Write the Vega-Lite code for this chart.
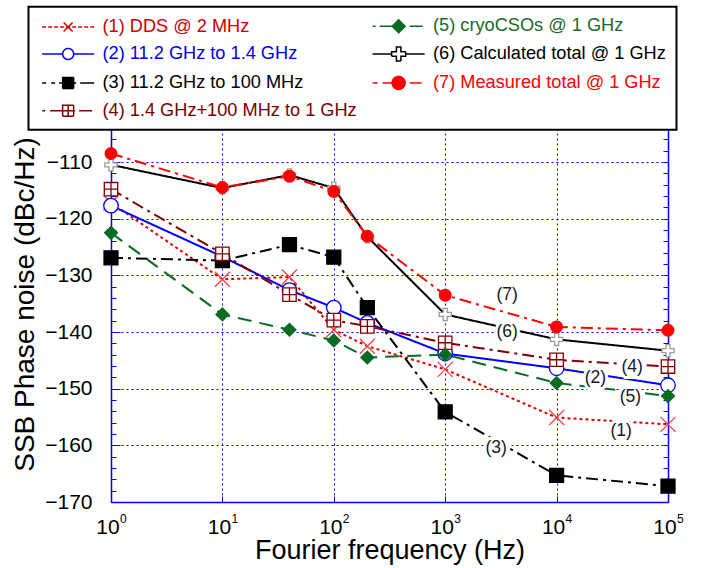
{
  "$schema": "https://vega.github.io/schema/vega-lite/v6.json",
  "width": 557,
  "height": 374,
  "autosize": {"type": "none"},
  "padding": {"left": 111, "top": 128, "right": 41, "bottom": 66},
  "background": "white",
  "config": {"font": "Liberation Sans", "view": {"stroke": null}},
  "datasets": {
    "d": [
      {"s": "(1) DDS @ 2 MHz", "f": 1, "v": -117.2},
      {"s": "(1) DDS @ 2 MHz", "f": 10, "v": -130.7},
      {"s": "(1) DDS @ 2 MHz", "f": 40, "v": -130.3},
      {"s": "(1) DDS @ 2 MHz", "f": 100, "v": -139.6},
      {"s": "(1) DDS @ 2 MHz", "f": 200, "v": -142.5},
      {"s": "(1) DDS @ 2 MHz", "f": 1000, "v": -146.6},
      {"s": "(1) DDS @ 2 MHz", "f": 10000, "v": -155.1},
      {"s": "(1) DDS @ 2 MHz", "f": 100000, "v": -156.3},
      {"s": "(2) 11.2 GHz to 1.4 GHz", "f": 1, "v": -117.7},
      {"s": "(2) 11.2 GHz to 1.4 GHz", "f": 10, "v": -126.7},
      {"s": "(2) 11.2 GHz to 1.4 GHz", "f": 40, "v": -132.6},
      {"s": "(2) 11.2 GHz to 1.4 GHz", "f": 100, "v": -135.7},
      {"s": "(2) 11.2 GHz to 1.4 GHz", "f": 200, "v": -138.4},
      {"s": "(2) 11.2 GHz to 1.4 GHz", "f": 1000, "v": -143.8},
      {"s": "(2) 11.2 GHz to 1.4 GHz", "f": 10000, "v": -146.4},
      {"s": "(2) 11.2 GHz to 1.4 GHz", "f": 100000, "v": -149.4},
      {"s": "(3) 11.2 GHz to 100 MHz", "f": 1, "v": -126.9},
      {"s": "(3) 11.2 GHz to 100 MHz", "f": 10, "v": -127.4},
      {"s": "(3) 11.2 GHz to 100 MHz", "f": 40, "v": -124.6},
      {"s": "(3) 11.2 GHz to 100 MHz", "f": 100, "v": -126.8},
      {"s": "(3) 11.2 GHz to 100 MHz", "f": 200, "v": -135.7},
      {"s": "(3) 11.2 GHz to 100 MHz", "f": 1000, "v": -154.1},
      {"s": "(3) 11.2 GHz to 100 MHz", "f": 10000, "v": -165.3},
      {"s": "(3) 11.2 GHz to 100 MHz", "f": 100000, "v": -167.2},
      {"s": "(4) 1.4 GHz+100 MHz to 1 GHz", "f": 1, "v": -114.8},
      {"s": "(4) 1.4 GHz+100 MHz to 1 GHz", "f": 10, "v": -126.2},
      {"s": "(4) 1.4 GHz+100 MHz to 1 GHz", "f": 40, "v": -133.4},
      {"s": "(4) 1.4 GHz+100 MHz to 1 GHz", "f": 100, "v": -137.9},
      {"s": "(4) 1.4 GHz+100 MHz to 1 GHz", "f": 200, "v": -139.0},
      {"s": "(4) 1.4 GHz+100 MHz to 1 GHz", "f": 1000, "v": -141.9},
      {"s": "(4) 1.4 GHz+100 MHz to 1 GHz", "f": 10000, "v": -144.9},
      {"s": "(4) 1.4 GHz+100 MHz to 1 GHz", "f": 100000, "v": -146.1},
      {"s": "(5) cryoCSOs @ 1 GHz", "f": 1, "v": -122.5},
      {"s": "(5) cryoCSOs @ 1 GHz", "f": 10, "v": -136.9},
      {"s": "(5) cryoCSOs @ 1 GHz", "f": 40, "v": -139.6},
      {"s": "(5) cryoCSOs @ 1 GHz", "f": 100, "v": -141.5},
      {"s": "(5) cryoCSOs @ 1 GHz", "f": 200, "v": -144.5},
      {"s": "(5) cryoCSOs @ 1 GHz", "f": 1000, "v": -144.0},
      {"s": "(5) cryoCSOs @ 1 GHz", "f": 10000, "v": -149.0},
      {"s": "(5) cryoCSOs @ 1 GHz", "f": 100000, "v": -151.3},
      {"s": "(6) Calculated total @ 1 GHz", "f": 1, "v": -110.5},
      {"s": "(6) Calculated total @ 1 GHz", "f": 10, "v": -114.6},
      {"s": "(6) Calculated total @ 1 GHz", "f": 40, "v": -112.3},
      {"s": "(6) Calculated total @ 1 GHz", "f": 100, "v": -114.6},
      {"s": "(6) Calculated total @ 1 GHz", "f": 200, "v": -123.2},
      {"s": "(6) Calculated total @ 1 GHz", "f": 1000, "v": -136.9},
      {"s": "(6) Calculated total @ 1 GHz", "f": 10000, "v": -141.3},
      {"s": "(6) Calculated total @ 1 GHz", "f": 100000, "v": -143.3},
      {"s": "(7) Measured total @ 1 GHz", "f": 1, "v": -108.5},
      {"s": "(7) Measured total @ 1 GHz", "f": 10, "v": -114.5},
      {"s": "(7) Measured total @ 1 GHz", "f": 40, "v": -112.5},
      {"s": "(7) Measured total @ 1 GHz", "f": 100, "v": -115.2},
      {"s": "(7) Measured total @ 1 GHz", "f": 200, "v": -123.1},
      {"s": "(7) Measured total @ 1 GHz", "f": 1000, "v": -133.5},
      {"s": "(7) Measured total @ 1 GHz", "f": 10000, "v": -139.1},
      {"s": "(7) Measured total @ 1 GHz", "f": 100000, "v": -139.7}
    ],
    "ann": [
      {"t": "(7)", "f": 3600, "v": -133.5},
      {"t": "(6)", "f": 3600, "v": -140.0},
      {"t": "(4)", "f": 47700, "v": -146.1},
      {"t": "(2)", "f": 22300, "v": -148.2},
      {"t": "(5)", "f": 46000, "v": -151.4},
      {"t": "(1)", "f": 38000, "v": -157.4},
      {"t": "(3)", "f": 2870, "v": -160.5}
    ]
  },
  "resolve": {"axis": {"x": "independent", "y": "independent"}},
  "layer": [
    {
      "data": {"name": "d"},
      "mark": {"type": "line", "strokeWidth": 2},
      "encoding": {
        "x": {
          "field": "f", "type": "quantitative",
          "scale": {"type": "log", "domain": [1, 100000]},
          "axis": {
            "orient": "bottom", "values": [1, 10, 100, 1000, 10000, 100000],
            "labelExpr": "'10'", "labelFontSize": 21, "labelColor": "#000", "labelPadding": 20.4, "labelOffset": -3.5, "labelFlush": false,
            "tickSize": -6, "tickColor": "#0000ff", "tickWidth": 1,
            "domainColor": "#0000ff", "domainWidth": 1.5,
            "grid": true, "gridColor": "#0000ff", "gridDash": [2, 3], "gridWidth": 1, "gridOpacity": 1,
            "title": "Fourier frequency (Hz)", "titleFontSize": 27, "titleFontWeight": "normal", "titleColor": "#000", "titlePadding": 0
          }
        },
        "y": {
          "field": "v", "type": "quantitative",
          "scale": {"domain": [-170, -104], "nice": false, "zero": false},
          "axis": {
            "orient": "left", "values": [-170, -160, -150, -140, -130, -120, -110],
            "labelFontSize": 21, "labelColor": "#000", "labelPadding": 28,
            "tickSize": -9, "tickColor": "#0000ff", "tickWidth": 1,
            "domainColor": "#0000ff", "domainWidth": 1.5,
            "grid": true, "gridColor": "#0000ff", "gridDash": [2, 3], "gridWidth": 1, "gridOpacity": 1,
            "title": "SSB Phase noise (dBc/Hz)", "titleFontSize": 28, "titleFontWeight": "normal", "titleColor": "#000", "titlePadding": 5, "titleY": 176
          }
        },
        "color": {
          "field": "s", "type": "nominal",
          "scale": {
            "domain": ["(1) DDS @ 2 MHz", "(2) 11.2 GHz to 1.4 GHz", "(3) 11.2 GHz to 100 MHz", "(4) 1.4 GHz+100 MHz to 1 GHz", "(5) cryoCSOs @ 1 GHz", "(6) Calculated total @ 1 GHz", "(7) Measured total @ 1 GHz"],
            "range": ["#e00000", "#0000ff", "#000000", "#800000", "#0b6b22", "#000000", "#ff0000"]
          },
          "legend": {
            "orient": "none", "legendX": -82.5, "legendY": -121.3,
            "columns": 2, "columnPadding": 12.5, "rowPadding": 7.9,
            "title": null,
            "labelFont": "Liberation Sans", "labelFontSize": 18.2, "labelLimit": 600, "labelOffset": 45.5,
            "symbolSize": 100, "symbolStrokeWidth": 1.5,
            "padding": 10.3, "strokeColor": "#000000", "fillColor": "#ffffff",
            "encode": {
              "legend": {"update": {"strokeWidth": {"value": 2}}},
              "symbols": {"update": {
                "shape": {"signal": "['M-1.15,0H-0.35M0.05,0H0.85M1.25,0H2.05M2.45,0H3.25M3.65,0H4.45M4.85,0H5.65M6.05,0H6.85M7.25,0H8.05M8.45,0H9.25M3.15,-0.9L4.95,0.9M3.15,0.9L4.95,-0.9', 'M-1.15,0H2.95M5.15,0H9.25M5.15,0A1.1,1.1 0 1,1 2.95,0A1.1,1.1 0 1,1 5.15,0Z', 'M-1.15,0H-0.35M0.65,0H1.45M2.25,0H5.65M6.45,0H9.25M2.95,-1.1H5.15V1.1H2.95Z', 'M-1.15,0H-0.55M0.45,0H5.45M6.25,0H8.85M2.95,-1.1H5.15V1.1H2.95ZM4.05,-1.1V1.1M2.95,0H5.15', 'M-1.15,0H-0.55M0.25,0H2.75M6.25,0H8.85M2.75,0L4.05,-1.3L5.35,0L4.05,1.3Z', 'M-1.15,0H2.65M5.45,0H9.25M3.6,-1.4H4.5V-0.45H5.45V0.45H4.5V1.4H3.6V0.45H2.65V-0.45H3.6Z', 'M-1.15,0H-0.15M0.85,0H2.75M6.25,0H8.65M5.35,0A1.3,1.3 0 1,1 2.75,0A1.3,1.3 0 1,1 5.35,0Z'][toNumber(substring(datum.value,1,2))-1]"},
                "fill": {"signal": "['transparent','#ffffff','#000000','#ffffff','#0b6b22','#ffffff','#ff0000'][toNumber(substring(datum.value,1,2))-1]"},
                "stroke": {"signal": "['#e00000','#0000ff','#000000','#800000','#0b6b22','#000000','#ff0000'][toNumber(substring(datum.value,1,2))-1]"},
                "strokeWidth": {"value": 1.5},
                "strokeDash": {"value": [1, 0]},
                "opacity": {"value": 1}
              }},
              "labels": {"update": {
                "fill": {"signal": "['#cc0000','#0000ee','#000000','#7a0000','#1a6a2a','#000000','#ff0000'][toNumber(substring(datum.value,1,2))-1]"}
              }}
            }
          }
        },
        "strokeDash": {
          "field": "s", "type": "nominal",
          "scale": {
            "domain": ["(7) Measured total @ 1 GHz", "(6) Calculated total @ 1 GHz", "(5) cryoCSOs @ 1 GHz", "(4) 1.4 GHz+100 MHz to 1 GHz", "(3) 11.2 GHz to 100 MHz", "(2) 11.2 GHz to 1.4 GHz", "(1) DDS @ 2 MHz"],
            "range": [[12, 5, 3, 5], [1, 0], [14, 8], [12, 5, 3, 5], [12, 5, 3, 5], [1, 0], [3, 3]]
          },
          "legend": null
        }
      }
    },
    {
      "data": {"name": "d"},
      "mark": {"type": "point", "filled": true, "strokeWidth": 1.3, "opacity": 1},
      "encoding": {
        "x": {
          "field": "f", "type": "quantitative",
          "scale": {"type": "log", "domain": [1, 100000]},
          "axis": {
            "orient": "bottom", "values": [1, 10, 100, 1000, 10000, 100000],
            "labelExpr": "'' + round(log(datum.value)/LN10)", "labelFontSize": 12, "labelColor": "#000",
            "labelPadding": 11.8, "labelOffset": 8.5, "labelAlign": "left", "labelFlush": false,
            "ticks": false, "domain": false, "grid": false, "title": null
          }
        },
        "y": {
          "field": "v", "type": "quantitative",
          "scale": {"domain": [-170, -104], "nice": false, "zero": false},
          "axis": {
            "orient": "left",
            "values": [-168, -166, -164, -162, -158, -156, -154, -152, -148, -146, -144, -142, -138, -136, -134, -132, -128, -126, -124, -122, -118, -116, -114, -112, -108, -106],
            "labels": false, "domain": false, "grid": false, "title": null,
            "tickSize": -5, "tickColor": "#0000ff", "tickWidth": 1
          }
        },
        "shape": {
          "field": "s", "type": "nominal",
          "scale": {
            "domain": ["(7) Measured total @ 1 GHz", "(6) Calculated total @ 1 GHz", "(5) cryoCSOs @ 1 GHz", "(4) 1.4 GHz+100 MHz to 1 GHz", "(3) 11.2 GHz to 100 MHz", "(2) 11.2 GHz to 1.4 GHz", "(1) DDS @ 2 MHz"],
            "range": ["circle", "M-0.33,-1H0.33V-0.33H1V0.33H0.33V1H-0.33V0.33H-1V-0.33H-0.33Z", "diamond", "M-1,-1H1V1H-1ZM0,-1V1M-1,0H1", "square", "circle", "M-1,-1L1,1M-1,1L1,-1"]
          },
          "legend": null
        },
        "size": {
          "field": "s", "type": "ordinal",
          "scale": {
            "domain": ["(7) Measured total @ 1 GHz", "(6) Calculated total @ 1 GHz", "(5) cryoCSOs @ 1 GHz", "(4) 1.4 GHz+100 MHz to 1 GHz", "(3) 11.2 GHz to 100 MHz", "(2) 11.2 GHz to 1.4 GHz", "(1) DDS @ 2 MHz"],
            "range": [135, 225, 170, 144, 144, 90, 100]
          },
          "legend": null
        },
        "fill": {
          "field": "s", "type": "nominal",
          "scale": {
            "domain": ["(7) Measured total @ 1 GHz", "(6) Calculated total @ 1 GHz", "(5) cryoCSOs @ 1 GHz", "(4) 1.4 GHz+100 MHz to 1 GHz", "(3) 11.2 GHz to 100 MHz", "(2) 11.2 GHz to 1.4 GHz", "(1) DDS @ 2 MHz"],
            "range": ["#ff0000", "#ffffff", "#0b6b22", "#ffffff", "#000000", "#ffffff", "transparent"]
          },
          "legend": null
        },
        "stroke": {
          "field": "s", "type": "nominal",
          "scale": {
            "domain": ["(7) Measured total @ 1 GHz", "(6) Calculated total @ 1 GHz", "(5) cryoCSOs @ 1 GHz", "(4) 1.4 GHz+100 MHz to 1 GHz", "(3) 11.2 GHz to 100 MHz", "(2) 11.2 GHz to 1.4 GHz", "(1) DDS @ 2 MHz"],
            "range": ["#ff0000", "#9a9a9a", "#0b6b22", "#800000", "#000000", "#0000ff", "#ff4040"]
          },
          "legend": null
        }
      }
    },
    {
      "data": {"name": "ann"},
      "mark": {"type": "text", "fontSize": 17.5, "stroke": "#ffffff", "strokeWidth": 6, "fill": "#ffffff"},
      "encoding": {
        "x": {"field": "f", "type": "quantitative", "scale": {"type": "log", "domain": [1, 100000]}, "axis": null},
        "y": {
          "field": "v", "type": "quantitative",
          "scale": {"domain": [-170, -104], "nice": false, "zero": false},
          "axis": {
            "orient": "right",
            "values": [-170, -168, -166, -164, -162, -160, -158, -156, -154, -152, -150, -148, -146, -144, -142, -140, -138, -136, -134, -132, -130, -128, -126, -124, -122, -120, -118, -116, -114, -112, -110, -108, -106],
            "labels": false, "grid": false, "title": null,
            "tickSize": -5, "tickColor": "#0000ff", "tickWidth": 1,
            "domainColor": "#0000ff", "domainWidth": 1.5
          }
        },
        "text": {"field": "t"}
      }
    },
    {
      "data": {"name": "ann"},
      "mark": {"type": "text", "fontSize": 17.5, "fill": "#1a1a1a"},
      "encoding": {
        "x": {"field": "f", "type": "quantitative", "scale": {"type": "log", "domain": [1, 100000]}, "axis": null},
        "y": {"field": "v", "type": "quantitative", "scale": {"domain": [-170, -104], "nice": false, "zero": false}, "axis": null},
        "text": {"field": "t"}
      }
    }
  ]
}
